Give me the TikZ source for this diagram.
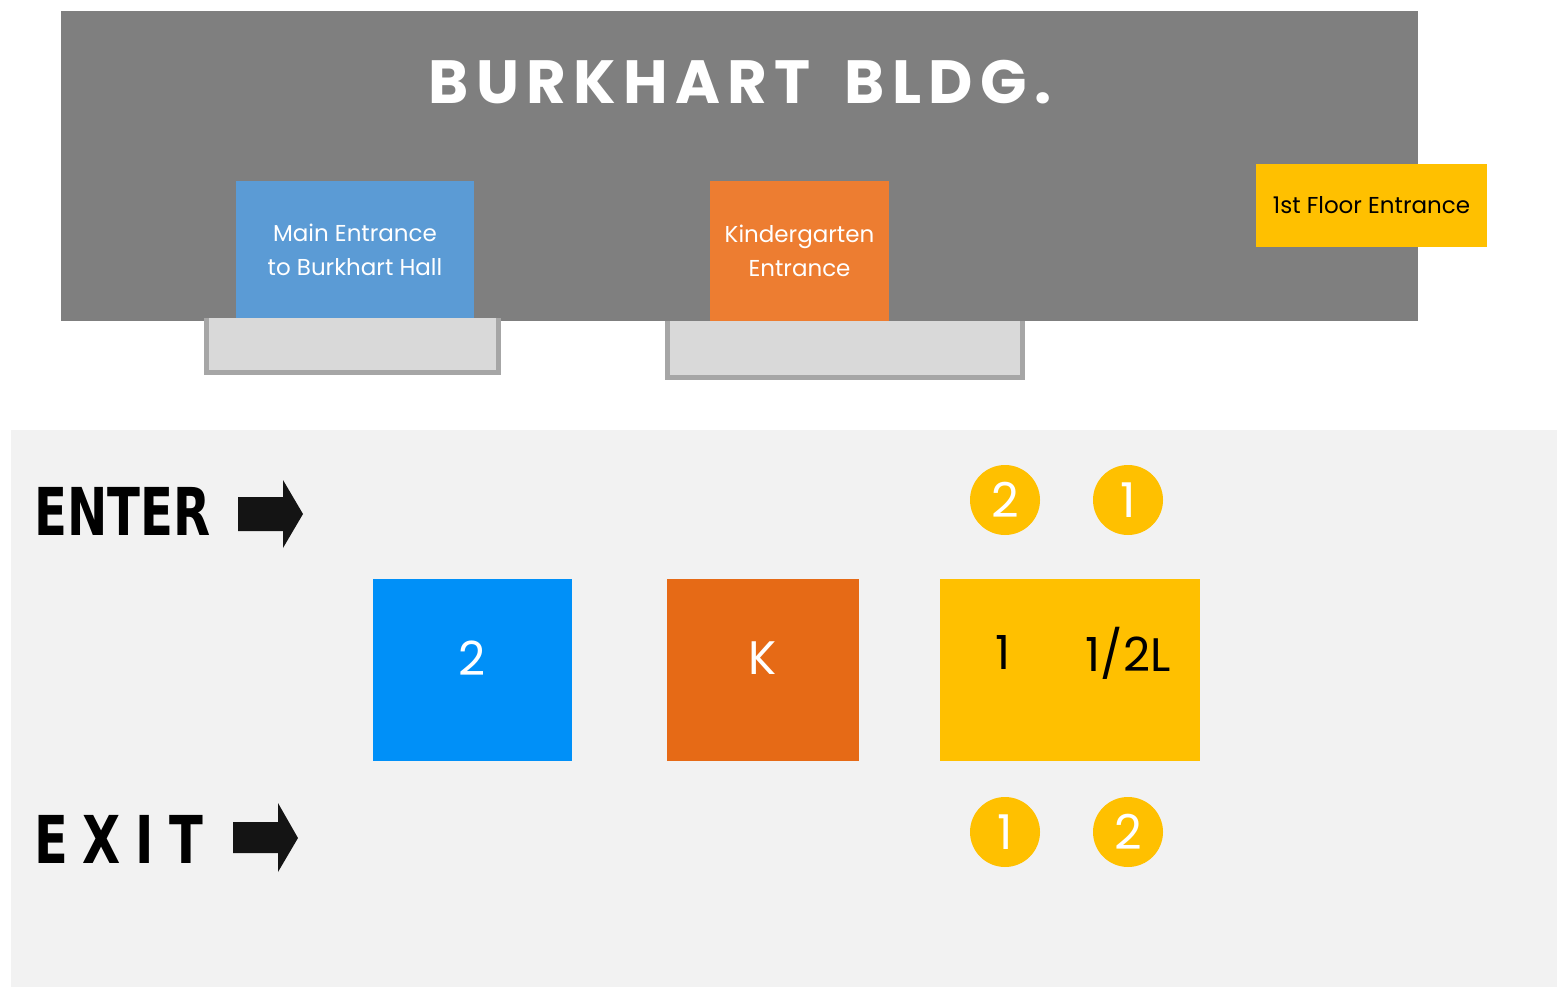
\documentclass[tikz,border=0pt]{standalone}
\usepackage{fontspec}
\setmainfont{Poppins}
\newfontfamily\signfont{DejaVu Sans}
\definecolor{bldg}{HTML}{7F7F7F}
\definecolor{mainblue}{HTML}{5B9BD5}
\definecolor{kinder}{HTML}{ED7D31}
\definecolor{yel}{HTML}{FFC000}
\definecolor{stepfill}{HTML}{D9D9D9}
\definecolor{stepedge}{HTML}{A6A6A6}
\definecolor{panel}{HTML}{F2F2F2}
\definecolor{bluesq}{HTML}{0090F8}
\definecolor{orangesq}{HTML}{E66A16}
\begin{document}
\begin{tikzpicture}[x=1pt,y=-1pt,
  box/.style={inner sep=0pt, align=center, text=white},
  doortext/.style={font=\fontsize{23}{34}\selectfont},
  bigtext/.style={font=\fontsize{47}{50}\selectfont},
  stepedgeline/.style={draw=stepedge, line width=4.5pt},
  circ/.style={circle, fill=yel, minimum size=70pt, inner sep=0pt, text=white, font=\fontsize{48}{50}\selectfont},
  signarrow/.style={fill=black!92}
]
\useasboundingbox (0,0) rectangle (1557,987);
\fill[white] (0,0) rectangle (1557,987);
% building
\fill[bldg] (61,11) rectangle (1418,321);
\node[inner sep=0pt, text=white, font=\fontsize{61}{70}\selectfont\bfseries\addfontfeature{LetterSpace=12}] (title) at (740,82) {BURKHART\hspace{14pt} BLDG.};
% steps
\fill[stepfill] (204,318) rectangle (501,375);
\draw[stepedgeline] (206.5,318) -- (206.5,372.5) -- (498.5,372.5) -- (498.5,318);
\fill[stepfill] (665,321) rectangle (1025,380);
\draw[stepedgeline] (667.5,321) -- (667.5,377.5) -- (1022.5,377.5) -- (1022.5,321);
% entrances
\node[box, doortext, fill=mainblue, minimum width=238pt, minimum height=137pt] (mainent) at (355,249.5) {Main Entrance\\to Burkhart Hall};
\node[box, doortext, fill=kinder, minimum width=179pt, minimum height=140pt] (kent) at (799.5,251) {Kindergarten\\Entrance};
\node[box, doortext, fill=yel, text=black, minimum width=231pt, minimum height=83pt] (floor1) at (1371.5,205.5) {1st Floor Entrance};
% lower panel
\fill[panel] (11,430) rectangle (1557,987);
\node[inner sep=0pt, anchor=base west, font=\signfont\bfseries\fontsize{66}{70}\selectfont] (enter) at (34,535) {\scalebox{0.73}[1]{ENTER}};
\fill[signarrow] (238,497) -- (283,497) -- (283,480) -- (303,514) -- (283,548) -- (283,531) -- (238,531) -- cycle;
\node[inner sep=0pt, anchor=base west, font=\signfont\bfseries\fontsize{66}{70}\selectfont\addfontfeature{LetterSpace=30}] (exit) at (34,863) {\scalebox{0.75}[1]{EXIT}};
\fill[signarrow] (233,822) -- (278,822) -- (278,803) -- (298,838) -- (278,872) -- (278,853) -- (233,853) -- cycle;
% squares
\fill[bluesq] (373,579) rectangle (572,761);
\fill[orangesq] (667,579) rectangle (859,761);
\fill[yel] (940,579) rectangle (1200,761);
\node[inner sep=0pt, text=white, bigtext] (sq2) at (472.5,658) {2};
\node[inner sep=0pt, text=white, bigtext] (sqk) at (763,658) {K};
\node[inner sep=0pt, text=black, bigtext] (one) at (1003,653) {1};
\node[inner sep=0pt, text=black, bigtext] (half) at (1128,653) {1/2L};
% circles
\node[circ] (en2) at (1005,500) {2};
\node[circ] (en1) at (1128,500) {1};
\node[circ] (ex1) at (1005,832) {1};
\node[circ] (ex2) at (1128,832) {2};
\end{tikzpicture}
\end{document}
